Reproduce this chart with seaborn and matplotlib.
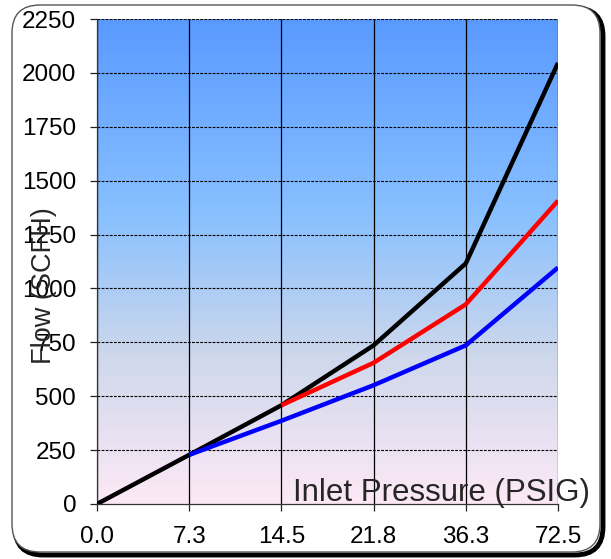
import numpy as np
import pandas as pd
import matplotlib
matplotlib.use("Agg")
import matplotlib.pyplot as plt
import seaborn as sns
from matplotlib.colors import LinearSegmentedColormap
from matplotlib.patches import FancyBboxPatch
from matplotlib.transforms import IdentityTransform

# pressure steps (PSIG), drawn at equal spacing
pressure_labels = ["0.0", "7.3", "14.5", "21.8", "36.3", "72.5"]
flow_black = [0, 228, 458, 736, 1116, 2046]
flow_red = [None, None, 458, 655, 926, 1407]
flow_blue = [None, 228, 386, 551, 736, 1097]
y_ticks = [0, 250, 500, 750, 1000, 1250, 1500, 1750, 2000, 2250]

rows = []
for name, vals in [("black", flow_black), ("red", flow_red), ("blue", flow_blue)]:
    for i, v in enumerate(vals):
        if v is not None:
            rows.append({"pos": i, "flow": v, "series": name})
df = pd.DataFrame(rows)

sns.set_style("white")
plt.rcParams['font.family'] = ['Liberation Sans', 'DejaVu Sans']

fig = plt.figure(figsize=(6.11, 5.59), dpi=100)

# outer rounded frame with shadow
shadow = FancyBboxPatch((15, 4), 588, 547, boxstyle="round,pad=0,rounding_size=28",
                        transform=IdentityTransform(), facecolor="none",
                        edgecolor="black", linewidth=3.5, zorder=-2)
frame = FancyBboxPatch((12, 7), 588, 547, boxstyle="round,pad=0,rounding_size=28",
                       transform=IdentityTransform(), facecolor="white",
                       edgecolor="#555555", linewidth=1.0, zorder=-1)
fig.patches.extend([shadow, frame])

ax = fig.add_axes([97 / 611, 55 / 559, 461 / 611, 485 / 559])
ax.patch.set_alpha(0)

# gradient background
cmap = LinearSegmentedColormap.from_list("bg", [
    (0.0, "#fde9f6"), (0.3, "#cfd8ec"), (0.6, "#88c0ff"), (1.0, "#5a9aff")])
grad = np.linspace(0, 1, 256).reshape(-1, 1)
ax.imshow(grad, cmap=cmap, aspect="auto", origin="lower",
          extent=[0, 5, 0, 2250], zorder=0)

# grid
for i in range(len(pressure_labels)):
    ax.axvline(i, color="black", linewidth=0.9, zorder=1)
for t in y_ticks[1:]:
    ax.axhline(t, color="black", linewidth=0.8, linestyle=(0, (2.5, 1.2)), zorder=1)

sns.lineplot(data=df, x="pos", y="flow", hue="series",
             hue_order=["black", "red", "blue"],
             palette={"black": "black", "red": "#ff0000", "blue": "#0000ff"},
             linewidth=3.2, legend=False, ax=ax, zorder=3, solid_capstyle="butt")

ax.set_xlim(0, 5)
ax.set_ylim(0, 2250)
ax.set_xticks(range(len(pressure_labels)))
ax.set_xticklabels(pressure_labels)
ax.set_yticks(y_ticks)
ax.tick_params(axis="both", labelsize=17.5, length=5, width=0.9, direction="out",
               colors="#222222", labelcolor="black")
ax.tick_params(axis="x", pad=11)
ax.tick_params(axis="y", pad=10)
ax.tick_params(left=True, bottom=True)

for side in ["top", "right"]:
    ax.spines[side].set_visible(False)
for side in ["left", "bottom"]:
    ax.spines[side].set_color("#333333")
    ax.spines[side].set_linewidth(0.9)

ax.set_xlabel("")
ax.set_ylabel("Flow (SCFH)", fontsize=19.5, zorder=5)
ax.yaxis.set_label_coords(-0.087, 0.45)
ax.text(1.07, 0.006, "Inlet Pressure (PSIG)", transform=ax.transAxes,
        ha="right", va="baseline", fontsize=22.5, zorder=5, clip_on=False)

fig.savefig("out.png", dpi=100)
